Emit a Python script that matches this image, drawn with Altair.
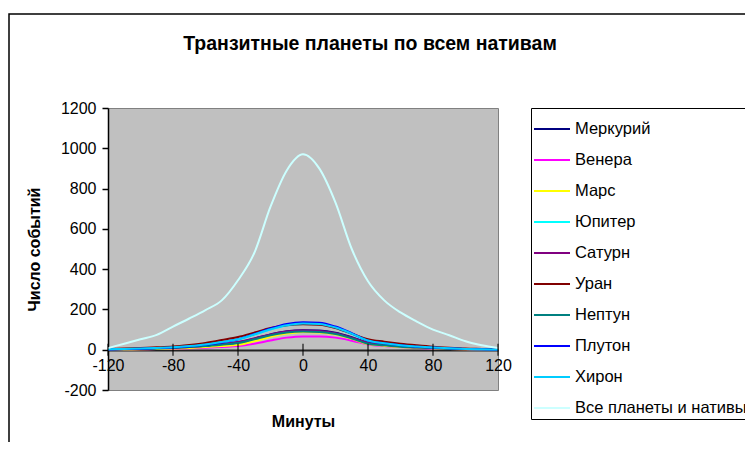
import altair as alt
import pandas as pd

FONT = "Liberation Sans"

minutes = list(range(-120, 121, 10))
series_names = ["Меркурий", "Венера", "Марс", "Юпитер", "Сатурн", "Уран",
                "Нептун", "Плутон", "Хирон", "Все планеты и нативы"]
series_colors = ["#000080", "#FF00FF", "#FFFF00", "#00FFFF", "#800080", "#800000",
                 "#008080", "#0000FF", "#00CCFF", "#CCFFFF"]

merkury = [1, 2, 4, 6, 9, 13, 19, 27, 36, 55, 76, 92, 97, 95, 84, 62, 36, 25, 17, 12, 8, 5, 3, 2, 1]
venera = [0, 1, 2, 3, 5, 7, 10, 14, 18, 30, 46, 60, 66, 66, 60, 45, 26, 18, 13, 9, 6, 4, 2, 1, 0]
mars = [0, 1, 2, 4, 6, 9, 13, 18, 24, 42, 64, 80, 88, 86, 76, 54, 28, 20, 14, 10, 7, 4, 2, 1, 0]
jupiter = [2, 4, 6, 8, 12, 17, 25, 37, 50, 74, 100, 120, 128, 126, 108, 78, 44, 31, 21, 15, 10, 7, 4, 2, 1]
saturn = [1, 3, 5, 7, 10, 14, 20, 28, 38, 56, 76, 90, 95, 93, 82, 60, 35, 25, 17, 12, 8, 5, 3, 2, 1]
uran = [3, 6, 9, 12, 16, 24, 34, 48, 63, 85, 108, 122, 126, 124, 108, 80, 52, 40, 30, 22, 15, 10, 6, 4, 2]
neptun = [1, 2, 4, 6, 9, 13, 18, 25, 33, 52, 72, 86, 90, 88, 78, 56, 30, 22, 15, 11, 8, 5, 3, 2, 1]
pluton = [1, 3, 5, 8, 11, 16, 24, 36, 52, 78, 106, 128, 136, 134, 115, 82, 45, 32, 22, 15, 11, 7, 4, 2, 1]
hiron = [2, 4, 6, 9, 12, 18, 26, 38, 52, 76, 102, 122, 130, 128, 110, 80, 46, 32, 22, 16, 11, 7, 4, 2, 1]
vse = [8, 30, 52, 74, 115, 155, 197, 245, 345, 480, 710, 890, 970, 900, 730, 500, 340, 245, 185, 140, 100, 72, 42, 22, 8]

series_values = [merkury, venera, mars, jupiter, saturn, uran, neptun, pluton, hiron, vse]

x_ticks = [-120, -80, -40, 0, 40, 80, 120]
y_ticks = [-200, 0, 200, 400, 600, 800, 1000, 1200]

rows = []
for name, vals in zip(series_names, series_values):
    for m, v in zip(minutes, vals):
        rows.append({"Минуты": m, "Число событий": v, "series": name})
df = pd.DataFrame(rows)

x_scale = alt.Scale(domain=[-120, 120], nice=False, zero=False)
y_scale = alt.Scale(domain=[-200, 1200], nice=False, zero=False)

lines = alt.Chart(df).mark_line(interpolate="monotone", strokeWidth=2).encode(
    x=alt.X("Минуты:Q", scale=x_scale,
            axis=alt.Axis(values=x_ticks, title="Минуты", offset=-40, ticks=False,
                          domainColor="#222222", domainWidth=2, grid=False,
                          labelExpr="datum.value + ''",
                          labelFont=FONT, labelFontSize=16, labelColor="black",
                          labelPadding=7, labelFlush=False,
                          titleFont=FONT, titleFontSize=16, titleFontWeight="bold",
                          titleColor="black", titlePadding=40)),
    y=alt.Y("Число событий:Q", scale=y_scale,
            axis=alt.Axis(values=y_ticks, title="Число событий", tickSize=6,
                          tickColor="black", tickWidth=1.5, domainColor="black",
                          domainWidth=1.5, grid=False,
                          labelExpr="datum.value + ''",
                          labelFont=FONT, labelFontSize=16, labelColor="black",
                          labelPadding=6,
                          titleFont=FONT, titleFontSize=16, titleFontWeight="bold",
                          titleColor="black", titlePadding=18)),
    color=alt.Color("series:N", scale=alt.Scale(domain=series_names, range=series_colors),
                    legend=alt.Legend(title=None, orient="none", legendX=423, legendY=0,
                                      strokeColor="black", fillColor="white", padding=2,
                                      symbolType="stroke", symbolSize=1296,
                                      symbolStrokeWidth=2, rowPadding=3,
                                      labelFont=FONT, labelFontSize=16.5,
                                      labelColor="black", labelOffset=4,
                                      labelLimit=400)),
)

tick_df = pd.DataFrame({"Минуты": x_ticks, "Число событий": [0] * len(x_ticks)})
ticks = alt.Chart(tick_df).mark_tick(orient="vertical", size=12, thickness=1.5,
                                     color="black").encode(
    x=alt.X("Минуты:Q", scale=x_scale),
    y=alt.Y("Число событий:Q", scale=y_scale),
)

border = alt.Chart(pd.DataFrame({"k": [0]})).mark_rect(
    fillOpacity=0, stroke="black", strokeWidth=1.5).encode(
    x=alt.value(-99), x2=alt.value(700), y=alt.value(-94), y2=alt.value(420)
)

chart = alt.layer(border, lines, ticks).properties(
    width=390, height=282,
    title=alt.TitleParams("Транзитные планеты по всем нативам", font=FONT, fontSize=19.5,
                          fontWeight="bold", color="black", dx=67, offset=-41,
                          frame="group"),
    autosize=alt.AutoSizeParams(type="none"),
    padding={"left": 100, "top": 100, "right": 247, "bottom": 52},
).configure_view(fill="#C0C0C0", stroke="#808080", strokeWidth=1)

chart.save("out.html", embed_options={"renderer": "svg", "actions": False})
